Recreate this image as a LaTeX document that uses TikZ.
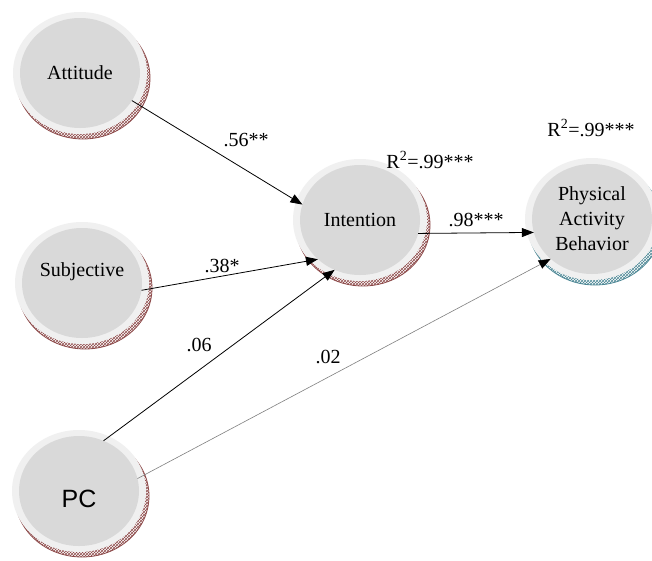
\documentclass[tikz,border=0pt]{standalone}
\usepackage{fontspec}
\setmainfont{Liberation Serif}
\newfontfamily\pcfont{Liberation Sans}
\usetikzlibrary{shapes.geometric,arrows.meta,patterns}
\definecolor{ringgray}{HTML}{F0F0F0}
\definecolor{innergray}{HTML}{D9D9D9}
\definecolor{shred}{HTML}{8E4B4B}
\definecolor{shteal}{HTML}{4E8896}
\definecolor{pathgray}{HTML}{808080}
\pgfdeclarelayer{bg}
\pgfsetlayers{bg,main}
\begin{document}
\begin{tikzpicture}[x=1pt,y=-1pt,
  latent/.style={ellipse, minimum width=120pt, minimum height=110pt, inner sep=0pt, outer sep=0pt,
    fill=innergray, font=\fontsize{20}{25}\selectfont, align=center},
  coef/.style={font=\fontsize{20}{24}\selectfont, inner sep=0pt},
  pathline/.style={draw=black, line width=0.8pt, -{Triangle[length=12pt,width=9pt]}},
  weakline/.style={draw=pathgray, line width=0.6pt, -{Triangle[length=12pt,width=9pt,color=black]}}
]
\useasboundingbox (0,0) rectangle (652,560);

\node[latent] (att) at (80,73) {Attitude};
\node[latent] (sub) at (82,283) {\raisebox{11pt}[\height][\depth]{Subjective}};
\node[latent] (int) at (360,220) {Intention};
\node[latent] (pab) at (592,219) {Physical\\ Activity\\ Behavior};
\node[latent, font=\pcfont\fontsize{25}{30}\selectfont] (pc) at (79,491) {\raisebox{-8pt}[\height][\depth]{PC}};

\begin{pgfonlayer}{bg}
\fill[white] (0,0) rectangle (652,560);
\foreach \n/\c in {att/shred, sub/shred, int/shred, pc/shred, pab/shteal}{
  \fill[white] ([xshift=3pt,yshift=-5pt]\n.center) ellipse [x radius=67pt, y radius=61pt];
  \fill[pattern=crosshatch, pattern color=\c] ([xshift=3pt,yshift=-5pt]\n.center) ellipse [x radius=67pt, y radius=61pt];
  \draw[\c, line width=0.8pt] ([xshift=3pt,yshift=-5pt]\n.center) ellipse [x radius=67pt, y radius=61pt];
  \fill[ringgray] (\n.center) ellipse [x radius=67pt, y radius=61pt];
}
\end{pgfonlayer}

\draw[pathline] (att.-28) -- (int.165.5);
\draw[pathline] (sub.-7) -- (int.-137.5);
\draw[pathline] (pc.64) -- (int.-117);
\draw[weakline] (pc.12) -- (pab.-136);
\draw[pathline] (int.-13) -- (pab.193);

\node[coef] (l56) at (246,140) {.56**};
\node[coef] (l38) at (222,266) {.38*};
\node[coef] (l06) at (199,345) {.06};
\node[coef] (l02) at (328,357) {.02};
\node[coef] (l98) at (476,220) {.98***};
\node[coef] (r2i) at (430,160) {R\textsuperscript{2}=.99***};
\node[coef] (r2p) at (591,128) {R\textsuperscript{2}=.99***};
\end{tikzpicture}
\end{document}
